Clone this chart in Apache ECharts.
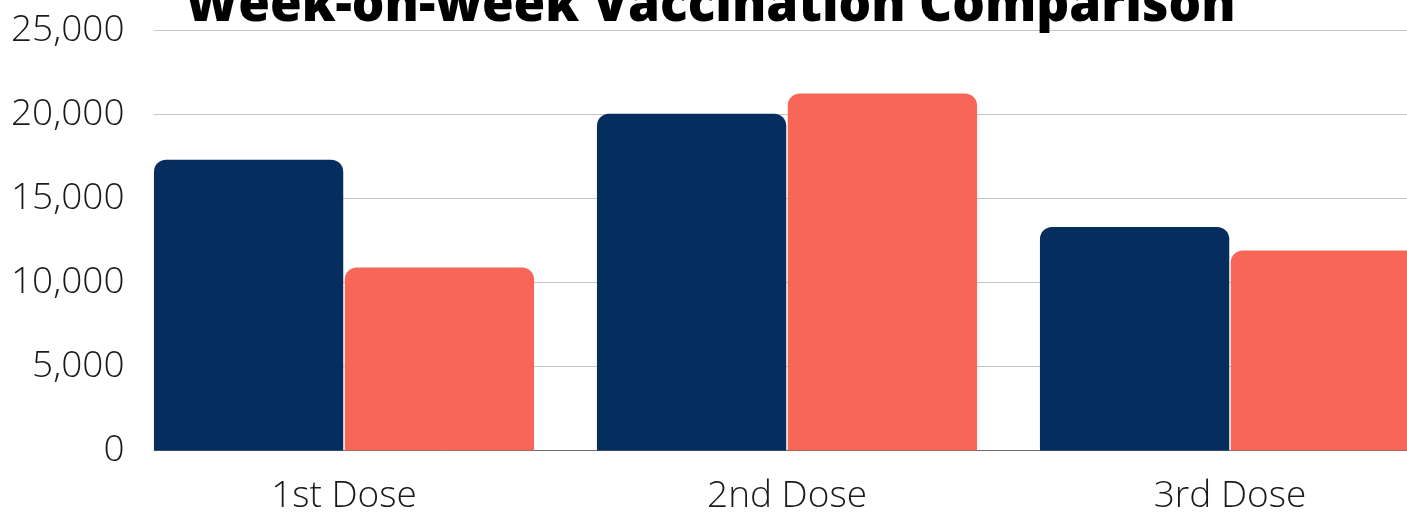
<!DOCTYPE html>
<html>
<head>
<meta charset="utf-8">
<script src="https://cdn.jsdelivr.net/npm/echarts@6/dist/echarts.min.js"></script>
<style>
html,body{margin:0;padding:0;background:#fff;}
#chart{width:1407px;height:516px;}
</style>
</head>
<body>
<div id="chart"></div>
<script>
const titleText = 'Week-on-week Vaccination Comparison';
const categories = ['1st Dose', '2nd Dose', '3rd Dose'];
const seriesNames = ['Previous Week', 'This Week'];
const previousWeek = [17300, 20050, 13300];
const thisWeek = [10900, 21250, 11900];
const yMin = 0, yMax = 25000, yInterval = 5000;

const chart = echarts.init(document.getElementById('chart'));
const font = '"Open Sans", sans-serif';
chart.setOption({
  animation: false,
  backgroundColor: '#ffffff',
  title: {
    text: titleText,
    left: 185,
    top: -24,
    padding: 0,
    textStyle: { fontFamily: font, fontWeight: 800, fontSize: 51.3, color: '#000000', lineHeight: 60 }
  },
  grid: { left: 122.5, width: 1329, top: 30.5, bottom: 65.5, containLabel: false, outerBoundsMode: 'none' },
  xAxis: {
    type: 'category',
    data: categories,
    axisTick: { show: false },
    axisLine: { lineStyle: { color: '#6e6e6e', width: 1 } },
    axisLabel: { fontFamily: font, fontWeight: 300, fontSize: 37, color: '#1a1a1a', margin: 27 }
  },
  yAxis: [
    {
      type: 'value', position: 'left', z: 2,
      min: yMin, max: yMax, interval: yInterval,
      axisLine: { show: false },
      axisTick: { show: false },
      splitLine: { show: false },
      axisLabel: {
        fontFamily: font, fontWeight: 300, fontSize: 37, color: '#1a1a1a', margin: -2,
        formatter: v => v.toLocaleString('en-US')
      }
    },
    {
      type: 'value', position: 'left', z: 0,
      min: yMin, max: yMax, interval: yInterval,
      axisLine: { show: false },
      axisTick: { show: false },
      axisLabel: { show: false },
      splitLine: { lineStyle: { color: '#c4c4c4', width: 1 } }
    }
  ],
  graphic: [{
    type: 'rect', z: 1, silent: true,
    shape: { x: 118, y: 0, width: 36, height: 453 },
    style: { fill: '#ffffff' }
  }],
  series: [
    {
      name: seriesNames[0], type: 'bar', data: previousWeek, z: 3, yAxisIndex: 0,
      barGap: '0.8%', barCategoryGap: '14.2%',
      itemStyle: { color: '#052e5f', borderRadius: [12, 12, 0, 0] }
    },
    {
      name: seriesNames[1], type: 'bar', data: thisWeek, z: 3, yAxisIndex: 0,
      itemStyle: { color: '#f76657', borderRadius: [12, 12, 0, 0] }
    }
  ]
});
</script>
</body>
</html>
